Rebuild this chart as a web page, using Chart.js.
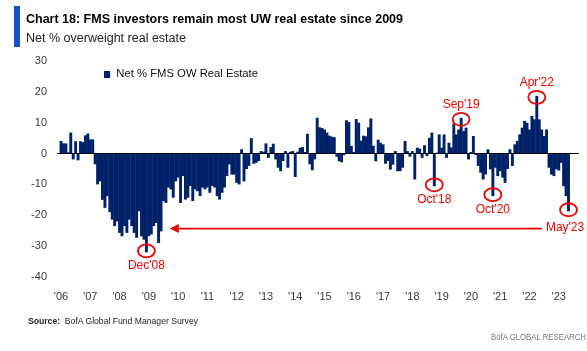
<!DOCTYPE html>
<html>
<head>
<meta charset="utf-8">
<script src="https://cdn.jsdelivr.net/npm/chart.js@4"></script>
<style>
  body { margin: 0; background: #fff; }
  #page { position: relative; width: 587px; height: 351px; overflow: hidden; font-family: "Liberation Sans", Arial, sans-serif; }
  #chart { position: absolute; left: 0; top: 0; }
  .fit { position: absolute; white-space: nowrap; transform-origin: left top; line-height: 1; }
  .accent { position: absolute; left: 14px; top: 6px; width: 6px; height: 41px; background: #1150c8; }
  #title { left: 26px; top: 12px; font-size: 13px; font-weight: bold; color: #000; }
  #subtitle { left: 26px; top: 32px; font-size: 12px; color: #222; }
  #legend { left: 104px; top: 68px; font-size: 11px; color: #111; }
  #legend .swatch { display: inline-block; width: 6px; height: 7px; background: #012169; margin-right: 6px; vertical-align: -1px; }
  #source { left: 28px; top: 316px; font-size: 9.5px; color: #222; }
  #brand { left: 491px; top: 332px; font-size: 9.5px; color: #777; }
</style>
</head>
<body>
<div id="page">
  <canvas id="chart" width="587" height="351"></canvas>
  <div class="accent"></div>
  <div class="fit" id="title">Chart 18: FMS investors remain most UW real estate since 2009</div>
  <div class="fit" id="subtitle">Net % overweight real estate</div>
  <div class="fit" id="legend"><span class="swatch"></span><span>Net % FMS OW Real Estate</span></div>
  <div class="fit" id="source"><b>Source:</b>&nbsp; BofA Global Fund Manager Survey</div>
  <div class="fit" id="brand">BofA GLOBAL RESEARCH</div>
</div>
<script>
const seriesName = 'Net % FMS OW Real Estate';

// monthly readings, Jan'06 .. May'23
const netOverweight = [
  4.1, 3.3, 3.3, 0.4, 6.8, -1.9, 4.0, -2.2, 4.0, 3.7, 5.9, 6.5,                 // 2006
  4.6, 4.6, -3.5, -10, -9, -15, -17.6, -13.8, -19, -21.4, -23.5, -22,            // 2007
  -25.7, -26.8, -23.5, -25.7, -21.4, -23.5, -25.7, -27.3, -18.7, -26.8, -27.9, -32, // 2008
  -26.8, -26.2, -23.5, -22.5, -29, -25.2, -15.4, -16, -11, -11.6, -14.3, -9,     // 2009
  -7.8, -16, -7.3, -14.9, -14.3, -10.5, -15.4, -11.6, -12.2, -13.8, -11, -11.6,  // 2010
  -11, -12.7, -10.5, -11, -13.8, -14.9, -12.7, -11, -7.3, -3.5, -6.8, -6.8,      // 2011
  -9.5, -10, 1.4, -9, -5, -4, 5, -3.3, -3, -2.4, 0.8, 0.6,                       // 2012
  3.3, -1.4, 2.1, 3.2, -1.9, -4.6, -5.7, -2.4, 0.8, -4.6, 0.6, 0.8,              // 2013
  -7.6, 0.6, 1.9, 2.1, 0.5, 6.4, -3.5, -5.4, -1.9, 11.6, 8.5, 8.3,               // 2014
  7.8, 6.8, 5.8, 5.5, 5.3, -1.0, -2.5, -2.8, -0.5, 10.8, 10.2, 2.5,              // 2015
  0.5, 11.2, 10.0, 4.2, 5.8, 5.6, 8.5, 11.4, 2.5, -2.5, 4.5, 3.5,                // 2016
  3.0, -3.3, -2.4, -5.2, -3.6, 0.8, -5.7, -5.7, -4.6, 4.1, 0.8, -1.0,            // 2017
  0.8, -8.4, 1.9, 1.6, -1.4, 2.7, -0.8, 5.1, 6.8, -10.6, 0.3, 6.2,               // 2018
  1.9, 6.2, -1.4, 3.5, 2.0, 9.8, 6.2, 7.8, 11.6, 7.3, 8.4, -1.9,                 // 2019
  0.5, 5.7, -0.5, -4.0, -6.2, -8.4, -6.8, 1.4, -5.1, -13.8, -4.6, -7.3,          // 2020
  -5.7, -7.8, -9.5, -5.0, 1.4, -4.0, 3.0, 4.1, 6.2, 8.4, 10.6, 10.0,             // 2021
  7.8, 12.2, 11.1, 18.7, 11.1, 7.8, 5.7, 7.8, -4.6, -6.8, -7.3, -5.1,            // 2022
  -5.5, -3.0, -10.6, -13.8, -18.7,                                               // 2023
];

const yearLabels = ["'06", "'07", "'08", "'09", "'10", "'11", "'12", "'13", "'14",
  "'15", "'16", "'17", "'18", "'19", "'20", "'21", "'22", "'23"];

const yTicks = [30, 20, 10, 0, -10, -20, -30, -40];

// month index (from Jan'06) of each circled bar
const callouts = [
  { month: 35, text: "Dec'08", side: 'below' },
  { month: 153, text: "Oct'18", side: 'below' },
  { month: 164, text: "Sep'19", side: 'above' },
  { month: 177, text: "Oct'20", side: 'below' },
  { month: 195, text: "Apr'22", side: 'above' },
  { month: 208, text: "May'23", side: 'arrow' },
];

// arrow from the 2009 trough across to May'23
const arrowFrom = 44.6;
const arrowTo = 197.1;
const arrowLevel = -24.3;

const navy = '#012169';
const red = '#f00000';
const tickColor = '#3a3a3a';

const calloutPlugin = {
  id: 'callouts',
  afterDatasetsDraw(chart) {
    const { ctx } = chart;
    const xs = chart.scales.x;
    const ys = chart.scales.y;
    ctx.save();
    ctx.strokeStyle = red;
    ctx.fillStyle = red;
    ctx.lineWidth = 1.8;
    ctx.font = '12px "Liberation Sans", Arial, sans-serif';
    ctx.textBaseline = 'middle';

    callouts.forEach((c) => {
      const v = netOverweight[c.month];
      const px = xs.getPixelForValue(c.month);
      const cy = ys.getPixelForValue(v) + (v < 0 ? -1.5 : 1.5);
      ctx.beginPath();
      ctx.ellipse(px, cy, 8.5, 6.5, 0, 0, Math.PI * 2);
      ctx.stroke();
      ctx.textAlign = 'center';
      if (c.side === 'above') ctx.fillText(c.text, px, cy - 14.5);
      if (c.side === 'below') ctx.fillText(c.text, px, cy + 15);
    });

    const ay = ys.getPixelForValue(arrowLevel);
    const x0 = xs.getPixelForValue(arrowFrom);
    const x1 = xs.getPixelForValue(arrowTo);
    ctx.beginPath();
    ctx.moveTo(x0 + 6, ay);
    ctx.lineTo(x1, ay);
    ctx.stroke();
    ctx.beginPath();
    ctx.moveTo(x0, ay);
    ctx.lineTo(x0 + 9, ay - 4.5);
    ctx.lineTo(x0 + 9, ay + 4.5);
    ctx.closePath();
    ctx.fill();
    const last = callouts.find((c) => c.side === 'arrow');
    ctx.textAlign = 'left';
    ctx.fillText(last.text, x1 + 4, ay - 1);
    ctx.restore();
  },
};

new Chart(document.getElementById('chart'), {
  type: 'bar',
  data: {
    datasets: [
      {
        label: seriesName,
        data: netOverweight.map((v, i) => ({ x: i, y: v })),
        backgroundColor: navy,
        borderWidth: 0,
        barPercentage: 1.2,
        categoryPercentage: 1,
      },
    ],
  },
  options: {
    responsive: false,
    animation: false,
    devicePixelRatio: 1,
    layout: { padding: { top: 61, right: 8, bottom: 0, left: 0 } },
    plugins: { legend: { display: false }, tooltip: { enabled: false } },
    scales: {
      x: {
        type: 'linear',
        offset: false,
        min: -1.64,
        max: 212.3,
        grid: { display: false },
        border: { display: false },
        afterBuildTicks: (scale) => {
          scale.ticks = yearLabels.map((_, k) => ({ value: k * 12 }));
        },
        afterFit: (scale) => { scale.height = 74; },
        ticks: {
          autoSkip: false,
          maxRotation: 0,
          padding: 5,
          color: tickColor,
          font: { family: '"Liberation Sans", Arial, sans-serif', size: 11 },
          callback: (value) => yearLabels[Math.round(value / 12)],
        },
      },
      y: {
        min: yTicks[yTicks.length - 1],
        max: yTicks[0],
        afterFit: (scale) => { scale.width = 57; },
        border: { display: false },
        grid: {
          drawTicks: false,
          color: (c) => (c.tick && c.tick.value === 0 ? '#000' : 'rgba(0,0,0,0)'),
        },
        ticks: {
          stepSize: 10,
          padding: 10,
          color: tickColor,
          font: { family: '"Liberation Sans", Arial, sans-serif', size: 11 },
        },
      },
    },
  },
  plugins: [calloutPlugin],
});

// squeeze the condensed headline fonts to the reference widths
function fitWidth(id, target) {
  const el = document.getElementById(id);
  const w = el.getBoundingClientRect().width;
  if (w) el.style.transform = `scaleX(${target / w})`;
}
fitWidth('title', 377);
fitWidth('subtitle', 160);
fitWidth('legend', 154);
fitWidth('source', 170);
fitWidth('brand', 95);
</script>
</body>
</html>
